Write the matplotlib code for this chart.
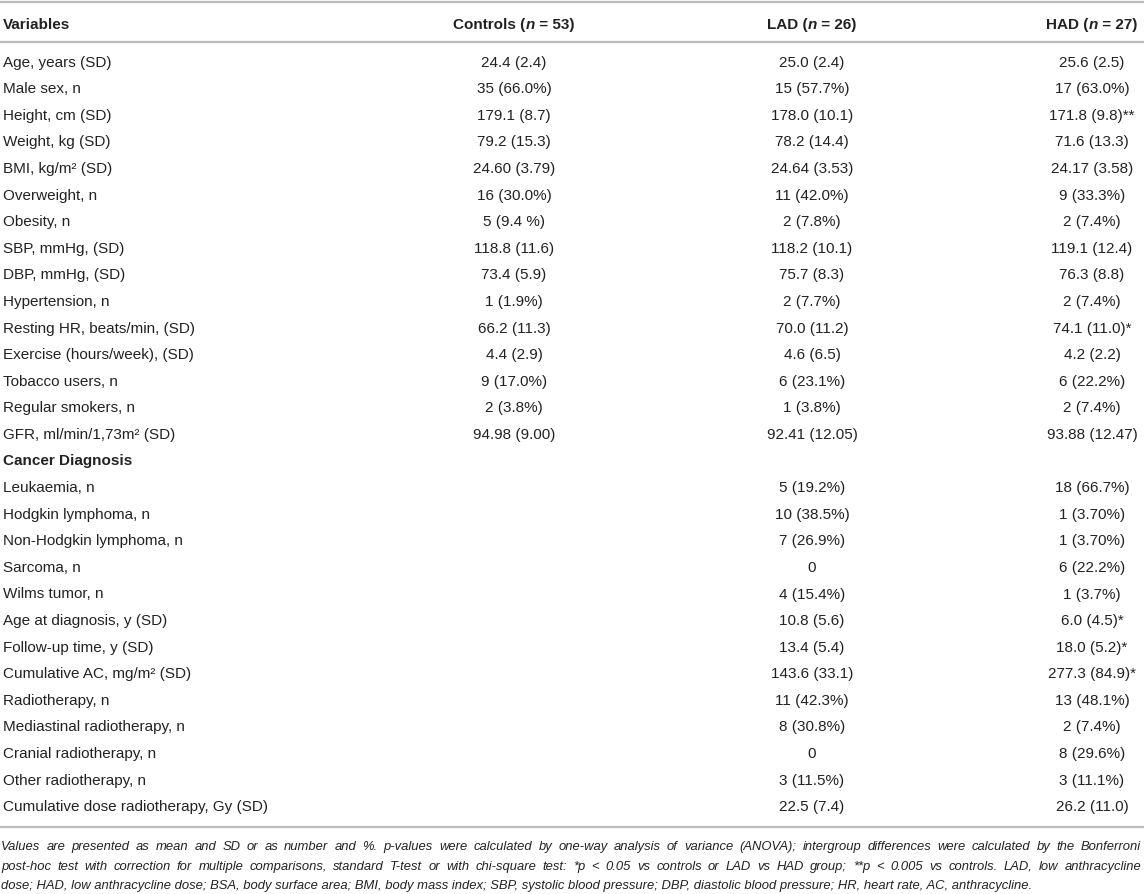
import matplotlib
matplotlib.use("Agg")
import matplotlib.pyplot as plt
from matplotlib.offsetbox import TextArea, HPacker, AnnotationBbox

# ---------------- data ----------------
variables = [
    "Age, years (SD)", "Male sex, n", "Height, cm (SD)", "Weight, kg (SD)",
    "BMI, kg/m² (SD)", "Overweight, n", "Obesity, n", "SBP, mmHg, (SD)",
    "DBP, mmHg, (SD)", "Hypertension, n", "Resting HR, beats/min, (SD)",
    "Exercise (hours/week), (SD)", "Tobacco users, n", "Regular smokers, n",
    "GFR, ml/min/1,73m² (SD)", "Cancer Diagnosis", "Leukaemia, n",
    "Hodgkin lymphoma, n", "Non-Hodgkin lymphoma, n", "Sarcoma, n",
    "Wilms tumor, n", "Age at diagnosis, y (SD)", "Follow-up time, y (SD)",
    "Cumulative AC, mg/m² (SD)", "Radiotherapy, n", "Mediastinal radiotherapy, n",
    "Cranial radiotherapy, n", "Other radiotherapy, n",
    "Cumulative dose radiotherapy, Gy (SD)",
]
bold_rows = ["Cancer Diagnosis"]
controls = [
    "24.4 (2.4)", "35 (66.0%)", "179.1 (8.7)", "79.2 (15.3)", "24.60 (3.79)",
    "16 (30.0%)", "5 (9.4 %)", "118.8 (11.6)", "73.4 (5.9)", "1 (1.9%)",
    "66.2 (11.3)", "4.4 (2.9)", "9 (17.0%)", "2 (3.8%)", "94.98 (9.00)",
    "", "", "", "", "", "", "", "", "", "", "", "", "", "",
]
lad = [
    "25.0 (2.4)", "15 (57.7%)", "178.0 (10.1)", "78.2 (14.4)", "24.64 (3.53)",
    "11 (42.0%)", "2 (7.8%)", "118.2 (10.1)", "75.7 (8.3)", "2 (7.7%)",
    "70.0 (11.2)", "4.6 (6.5)", "6 (23.1%)", "1 (3.8%)", "92.41 (12.05)",
    "", "5 (19.2%)", "10 (38.5%)", "7 (26.9%)", "0", "4 (15.4%)",
    "10.8 (5.6)", "13.4 (5.4)", "143.6 (33.1)", "11 (42.3%)", "8 (30.8%)",
    "0", "3 (11.5%)", "22.5 (7.4)",
]
had = [
    "25.6 (2.5)", "17 (63.0%)", "171.8 (9.8)**", "71.6 (13.3)", "24.17 (3.58)",
    "9 (33.3%)", "2 (7.4%)", "119.1 (12.4)", "76.3 (8.8)", "2 (7.4%)",
    "74.1 (11.0)*", "4.2 (2.2)", "6 (22.2%)", "2 (7.4%)", "93.88 (12.47)",
    "", "18 (66.7%)", "1 (3.70%)", "1 (3.70%)", "6 (22.2%)", "1 (3.7%)",
    "6.0 (4.5)*", "18.0 (5.2)*", "277.3 (84.9)*", "13 (48.1%)", "2 (7.4%)",
    "8 (29.6%)", "3 (11.1%)", "26.2 (11.0)",
]
headers = [("Controls (", "n", " = 53)"), ("LAD (", "n", " = 26)"), ("HAD (", "n", " = 27)")]
footnote_lines = [
    "Values are presented as mean and SD or as number and %. p-values were calculated by one-way analysis of variance (ANOVA); intergroup differences were calculated by the Bonferroni",
    "post-hoc test with correction for multiple comparisons, standard T-test or with chi-square test: *p < 0.05 vs controls or LAD vs HAD group; **p < 0.005 vs controls. LAD, low anthracycline",
    "dose; HAD, low anthracycline dose; BSA, body surface area; BMI, body mass index; SBP, systolic blood pressure; DBP, diastolic blood pressure; HR, heart rate, AC, anthracycline.",
]

# ---------------- layout ----------------
W, H = 1144, 895
FONT = "Liberation Sans"
FS = 11.0
TXT = "#222222"
LINE = "#bbbbbb"
col_x = [514, 812, 1092]
row_y0, row_dy = 62.5, 26.6

fig = plt.figure(figsize=(W / 100, H / 100), dpi=100)
ax = fig.add_axes([0, 0, 1, 1])
ax.set_xlim(0, W)
ax.set_ylim(H, 0)
ax.axis("off")

# rules
for y in (2.5, 43, 828):
    ax.plot([0, W], [y, y], color=LINE, lw=1.6, solid_capstyle="butt")

# header
ax.text(3, 25, "Variables", fontfamily=FONT, fontweight="bold", fontsize=FS,
        color=TXT, va="center", ha="left")
for (a, n, b), cx in zip(headers, col_x):
    props = dict(fontfamily=FONT, fontweight="bold", fontsize=FS, color=TXT)
    pack = HPacker(children=[
        TextArea(a, textprops=props),
        TextArea(n, textprops=dict(props, fontstyle="italic")),
        TextArea(b, textprops=props),
    ], align="baseline", pad=0, sep=0)
    ab = AnnotationBbox(pack, (cx, 25), xycoords="data", frameon=False,
                        box_alignment=(0.5, 0.5), pad=0)
    ax.add_artist(ab)

# body
for i, var in enumerate(variables):
    y = row_y0 + i * row_dy
    ax.text(3, y, var, fontfamily=FONT, fontsize=FS, color=TXT, va="center", ha="left",
            fontweight="bold" if var in bold_rows else "normal")
    for vals, cx in zip((controls, lad, had), col_x):
        if vals[i]:
            ax.text(cx, y, vals[i], fontfamily=FONT, fontsize=FS, color=TXT,
                    va="center", ha="center")

# footnote (justified)
fig.canvas.draw()
renderer = fig.canvas.get_renderer()
FN_FS = 9.4
fn_y = [847, 867, 886]
target_w = 1141
for li, (line, y) in enumerate(zip(footnote_lines, fn_y)):
    if li == len(footnote_lines) - 1:
        ax.text(1, y, line, fontfamily=FONT, fontstyle="italic", fontsize=FN_FS,
                color=TXT, va="center", ha="left")
        continue
    words = line.split(" ")
    texts = [ax.text(0, y, w, fontfamily=FONT, fontstyle="italic", fontsize=FN_FS,
                     color=TXT, va="center", ha="left") for w in words]
    widths = [t.get_window_extent(renderer).width for t in texts]
    gap = (target_w - 1 - sum(widths)) / (len(words) - 1)
    x = 1
    for t, w in zip(texts, widths):
        t.set_x(x)
        x += w + gap

fig.savefig("out.png", dpi=100, facecolor="white")
